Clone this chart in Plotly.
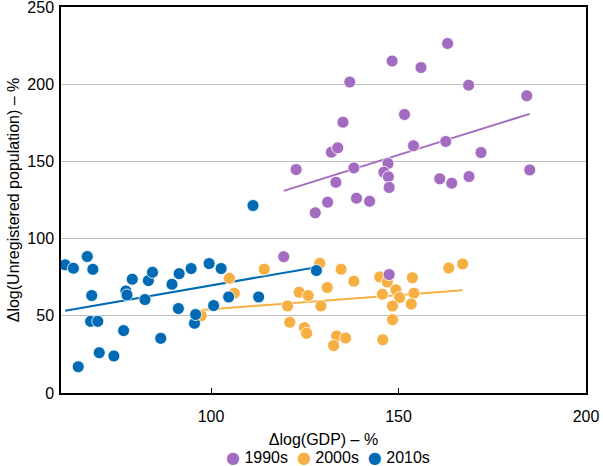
import numpy as np
import plotly.graph_objects as go

# 1990s
x_1990s = [122.7, 137.0, 135.2, 132.1, 133.8, 138.1, 133.3, 148.3, 156.0, 163.1,
           168.7, 184.2, 151.6, 154.0, 162.6, 172.0, 185.0, 147.2, 146.1, 147.3,
           147.5, 161.0, 164.2, 168.8, 131.1, 127.8, 138.8, 142.3, 119.4, 147.5]
y_1990s = [144.7, 201.4, 175.4, 156.0, 158.8, 145.8, 136.5, 215.0, 210.8, 226.4,
           199.4, 192.5, 180.4, 160.1, 162.9, 155.7, 144.5, 148.6, 143.0, 140.0,
           133.1, 138.7, 135.9, 140.2, 123.6, 116.7, 126.2, 124.2, 88.3, 76.7]

# 2000s
x_2000s = [114.2, 129.0, 134.7, 138.1, 131.0, 123.5, 125.9, 120.4, 129.3, 121.0,
           124.9, 125.5, 133.5, 135.9, 132.7, 145.8, 148.4, 145.0, 147.0, 145.7,
           149.3, 150.3, 148.4, 153.7, 154.1, 153.4, 163.4, 167.1, 104.9, 106.2, 97.4]
y_2000s = [80.2, 84.0, 80.2, 72.4, 68.3, 65.3, 63.1, 56.4, 56.4, 45.8,
           42.3, 38.7, 36.9, 35.6, 30.7, 34.5, 47.5, 75.2, 71.9, 64.0,
           66.8, 61.8, 56.4, 74.7, 64.6, 57.7, 81.0, 83.6, 74.3, 64.6, 50.1]

# 2010s
x_2010s = [61.1, 63.3, 67.0, 68.5, 68.2, 67.9, 69.8, 64.6, 70.2, 74.1,
           76.7, 77.3, 77.6, 79.0, 82.4, 83.3, 84.4, 86.6, 89.6, 91.3,
           91.5, 94.7, 95.6, 95.9, 99.5, 100.7, 102.7, 104.7, 111.2, 112.7, 128.1]
y_2010s = [83.0, 80.8, 88.4, 80.1, 63.1, 46.4, 46.4, 17.0, 26.1, 24.0,
           40.4, 66.1, 63.5, 73.7, 60.5, 72.8, 78.2, 35.4, 70.4, 54.7,
           77.3, 80.6, 45.2, 50.8, 83.8, 56.6, 80.6, 62.2, 121.4, 62.2, 79.3]

# Trend lines (start and end points)
trend_x_1990s = [119.4, 185.0]
trend_y_1990s = [130.9, 180.8]
trend_x_2000s = [97.4, 167.1]
trend_y_2000s = [53.8, 66.5]
trend_x_2010s = [61.1, 128.1]
trend_y_2010s = [53.3, 81.5]

x_ticks = [100, 150, 200]
y_ticks = [0, 50, 100, 150, 200, 250]
series_names = ["1990s", "2000s", "2010s"]

C90 = "#A46CC0"
C00 = "#F6AF43"
C10 = "#006BB4"
colors = [C90, C00, C10]

fig = go.Figure()
for tx, ty, c in [(trend_x_1990s, trend_y_1990s, C90),
                  (trend_x_2000s, trend_y_2000s, C00),
                  (trend_x_2010s, trend_y_2010s, C10)]:
    fig.add_trace(go.Scatter(x=tx, y=ty, mode="lines", line=dict(color=c, width=2),
                             showlegend=False, hoverinfo="skip", cliponaxis=False))

mk = dict(size=12, line=dict(color="white", width=0.8))
fig.add_trace(go.Scatter(x=x_2000s, y=y_2000s, mode="markers", name="2000s",
                         marker=dict(color=C00, **mk), showlegend=False))
fig.add_trace(go.Scatter(x=x_1990s, y=y_1990s, mode="markers", name="1990s",
                         marker=dict(color=C90, **mk), showlegend=False))
fig.add_trace(go.Scatter(x=x_2010s, y=y_2010s, mode="markers", name="2010s",
                         marker=dict(color=C10, **mk), showlegend=False))

font = dict(family="Liberation Sans, Arial, sans-serif", size=16, color="black")

legend_text = "&nbsp;&nbsp;".join(
    f"<span style='color:{c}; font-family:DejaVu Sans'>●</span> {n}"
    for n, c in zip(series_names, colors))

fig.update_layout(
    width=603, height=466,
    margin=dict(l=61, r=17, t=7, b=73, autoexpand=False),
    paper_bgcolor="white", plot_bgcolor="white",
    font=font,
    showlegend=False,
    annotations=[dict(text=legend_text, xref="paper", yref="paper",
                      x=0.508, y=-0.168, xanchor="center", yanchor="middle",
                      showarrow=False, font=font)],
    xaxis=dict(range=[60, 200], tickvals=x_ticks, ticks="inside", ticklen=5,
               tickcolor="black", showgrid=False, zeroline=False, automargin=False,
               showline=True, linecolor="black", linewidth=1.5, mirror=True,
               ticklabelstandoff=8, ticklabeloverflow="allow",
               title=dict(text="Δlog(GDP) – %", standoff=10, font=font)),
    yaxis=dict(range=[0, 250], tickvals=y_ticks, ticks="", showgrid=True,
               gridcolor="#BDBDBD", gridwidth=1, zeroline=False, automargin=False,
               showline=True, linecolor="black", linewidth=1.5, mirror=True,
               ticklabelstandoff=2, ticklabeloverflow="allow",
               title=dict(text="Δlog(Unregistered population) – %", standoff=4, font=font)),
)

fig.write_html("out.html", config={"displayModeBar": False},
               post_script="document.body.style.margin='0';")
